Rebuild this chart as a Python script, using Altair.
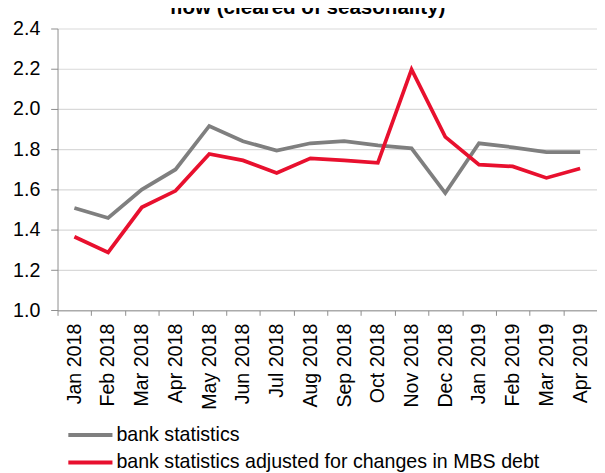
import altair as alt
import pandas as pd

months = ["Jan 2018", "Feb 2018", "Mar 2018", "Apr 2018", "May 2018", "Jun 2018",
          "Jul 2018", "Aug 2018", "Sep 2018", "Oct 2018", "Nov 2018", "Dec 2018",
          "Jan 2019", "Feb 2019", "Mar 2019", "Apr 2019"]
bank = [1.509, 1.459, 1.600, 1.700, 1.916, 1.840, 1.794, 1.830, 1.841, 1.820,
        1.805, 1.583, 1.830, 1.810, 1.786, 1.786]
adjusted = [1.366, 1.288, 1.512, 1.594, 1.777, 1.745, 1.683, 1.755, 1.745, 1.733,
            2.197, 1.862, 1.724, 1.715, 1.658, 1.705]
series_names = ["bank statistics", "bank statistics adjusted for changes in MBS debt"]
colors = ["#7f7f7f", "#e8102e"]
y_ticks = [1.0, 1.2, 1.4, 1.6, 1.8, 2.0, 2.2, 2.4]
title_text = "flow (cleared of seasonality)"

df = pd.DataFrame({
    "month": months * 2,
    "value": bank + adjusted,
    "series": [series_names[0]] * len(months) + [series_names[1]] * len(months),
})

FONT = "Liberation Sans"

lines = alt.Chart(df).mark_line(strokeWidth=3.8).encode(
    x=alt.X("month:N", sort=months, bandPosition=0.5,
            scale=alt.Scale(type="band", paddingInner=0, paddingOuter=0),
            axis=alt.Axis(title=None, grid=False, tickBand="extent", tickSize=5,
                          labelAngle=270, labelPadding=8, labelFontSize=20)),
    y=alt.Y("value:Q",
            scale=alt.Scale(domain=[1.0, 2.4], nice=False, zero=False),
            axis=alt.Axis(title=None, values=y_ticks, format=".1f", grid=True,
                          tickSize=7, labelPadding=11, labelFontSize=20)),
    color=alt.Color("series:N", sort=series_names,
                    scale=alt.Scale(domain=series_names, range=colors),
                    legend=alt.Legend(orient="none", legendX=9, legendY=402, title=None,
                                      symbolType="stroke", symbolSize=2025,
                                      symbolStrokeWidth=4, labelFontSize=20,
                                      labelFont=FONT, labelColor="black",
                                      labelOffset=2, clipHeight=25, rowPadding=3,
                                      padding=0, labelLimit=700, direction="vertical")),
)

title_df = pd.DataFrame({"t": [title_text]})
title = alt.Chart(title_df).mark_text(
    font=FONT, fontSize=21, fontWeight="bold", align="center",
    baseline="alphabetic", color="black"
).encode(text="t:N", x=alt.value(255), y=alt.value(-15))

chart = alt.layer(lines, title).properties(
    width=550, height=287.4,
    autosize=alt.AutoSizeParams(type="none"),
    padding={"left": 50.5, "top": 16.3, "right": 0, "bottom": 170},
    background="white",
).configure_view(stroke=None).configure_axis(
    domainColor="#8c8c8c", tickColor="#8c8c8c", gridColor="#d9d9d9",
    labelFont=FONT, labelColor="black", domainWidth=1, tickWidth=1, gridWidth=1.2,
)

chart.save("out.html", embed_options={"renderer": "svg", "actions": False})
